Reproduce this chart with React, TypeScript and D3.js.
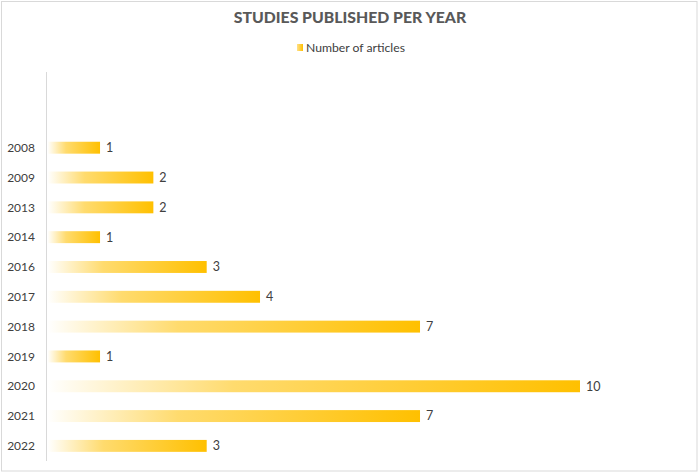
import React from "react";
import * as d3 from "d3";

const years = ["2008", "2009", "2013", "2014", "2016", "2017", "2018", "2019", "2020", "2021", "2022"];
const articles = [1, 2, 2, 1, 3, 4, 7, 1, 10, 7, 3];
const seriesName = "Number of articles";
const title = "STUDIES PUBLISHED PER YEAR";

const W = 700;
const H = 474;
const FONT = "Lato, 'Open Sans', sans-serif";

export default function App() {
  const x = d3.scaleLinear().domain([0, 10]).range([46.7, 580]);
  const y = d3.scaleBand<string>().domain(years).range([132.8, 460.8]).paddingInner(0.6).paddingOuter(0.3);

  return (
    <svg width={W} height={H} style={{ position: "absolute", left: 0, top: 0, background: "#fff" }}>
      <defs>
        <linearGradient id="barGrad" x1="0" y1="0" x2="1" y2="0">
          <stop offset="0%" stopColor="#FFFFFF" />
          <stop offset="35%" stopColor="#FFDB6E" />
          <stop offset="100%" stopColor="#FFC000" />
        </linearGradient>
        <linearGradient id="legGrad" x1="0" y1="0" x2="1" y2="0">
          <stop offset="0%" stopColor="#FFE08A" />
          <stop offset="100%" stopColor="#FFC000" />
        </linearGradient>
      </defs>
      <rect x={1.5} y={1.5} width={695.5} height={469.5} fill="#fff" stroke="#d9d9d9" />
      <text x={350} y={23} textAnchor="middle" fontFamily={FONT} fontWeight={900} fontSize={15.8} fill="#595959">
        {title}
      </text>
      <rect x={297} y={44} width={6} height={7} fill="url(#legGrad)" />
      <text x={306} y={52} fontFamily={FONT} fontSize={12.2} fill="#404040">
        {seriesName}
      </text>
      <line x1={46.5} x2={46.5} y1={72} y2={461} stroke="#d9d9d9" strokeWidth={1} />
      {years.map((yr, i) => {
        const yy = y(yr)!;
        const bw = y.bandwidth();
        const cy = yy + bw / 2;
        return (
          <g key={yr}>
            <rect x={x(0) + 1} y={yy} width={x(articles[i]) - x(0) - 1} height={bw} fill="url(#barGrad)" />
            <text x={35} y={cy} dy="0.35em" textAnchor="end" fontFamily={FONT} fontSize={12} fill="#404040">
              {yr}
            </text>
            <text x={x(articles[i]) + 6} y={cy} dy="0.35em" fontFamily={FONT} fontSize={12.5} fill="#404040">
              {articles[i]}
            </text>
          </g>
        );
      })}
    </svg>
  );
}
